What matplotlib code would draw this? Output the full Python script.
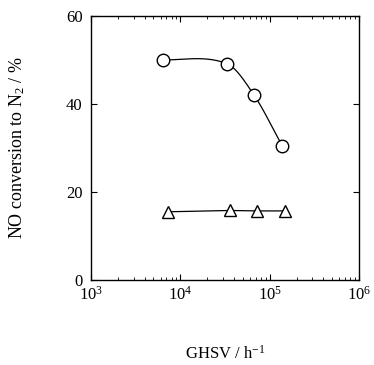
import numpy as np
import matplotlib
matplotlib.use("Agg")
import matplotlib.pyplot as plt
from matplotlib.ticker import LogLocator, FixedLocator

plt.rcParams['font.family'] = ['Liberation Serif', 'DejaVu Serif']
plt.rcParams['mathtext.fontset'] = 'custom'
plt.rcParams['mathtext.rm'] = 'Liberation Serif'
plt.rcParams['mathtext.it'] = 'Liberation Serif:italic'

ghsv_circle = [6400, 33000, 67000, 139000]
conv_circle = [50.0, 49.2, 42.0, 30.4]
ghsv_tri = [7200, 36000, 73000, 148000]
conv_tri = [15.5, 15.8, 15.7, 15.7]


def smooth_curve(x, y, xs):
    """Cubic Hermite (Catmull-Rom slopes, flat start) through the points."""
    x = np.asarray(x, float); y = np.asarray(y, float)
    n = len(x)
    h = np.diff(x)
    m = np.zeros(n)
    for i in range(1, n - 1):
        m[i] = (y[i+1] - y[i-1]) / (x[i+1] - x[i-1])
    m[0] = 0.0
    m[-1] = (y[-1] - y[-2]) / h[-1]
    out = np.empty_like(xs)
    for j, xv in enumerate(xs):
        i = int(np.clip(np.searchsorted(x, xv, side='right') - 1, 0, n - 2))
        t = (xv - x[i]) / h[i]
        h00 = 2*t**3 - 3*t**2 + 1; h10 = t**3 - 2*t**2 + t
        h01 = -2*t**3 + 3*t**2; h11 = t**3 - t**2
        out[j] = h00*y[i] + h10*h[i]*m[i] + h01*y[i+1] + h11*h[i]*m[i+1]
    return out


fig = plt.figure(figsize=(3.74, 3.65), dpi=100)
ax = fig.add_axes([91/374, 1-280/365, (359-91)/374, (280-16)/365])

lx = np.log10(ghsv_circle)
xs = np.linspace(lx[0], lx[-1], 300)
ax.plot(10**xs, smooth_curve(lx, conv_circle, xs), color='black', lw=0.9)
ax.plot(ghsv_circle, conv_circle, 'o', mfc='white', mec='black', ms=9, mew=1.0)

ax.plot(ghsv_tri, conv_tri, color='black', lw=0.9)
ax.plot(ghsv_tri, conv_tri, '^', mfc='white', mec='black', ms=8, mew=1.0)

ax.set_xscale('log')
ax.set_xlim(1e3, 1e6)
ax.set_ylim(0, 60)
ax.yaxis.set_major_locator(FixedLocator([0, 20, 40, 60]))
ax.xaxis.set_major_locator(LogLocator(base=10, numticks=10))
ax.xaxis.set_minor_locator(LogLocator(base=10, subs=np.arange(2, 10), numticks=20))
ax.tick_params(which='both', direction='in', top=True, right=True, labelsize=12)
ax.tick_params(which='major', length=4)
ax.tick_params(which='minor', length=2)
ax.tick_params(axis='x', which='major', pad=4)
ax.tick_params(axis='y', which='major', pad=6)
for s in ax.spines.values():
    s.set_linewidth(1.0)

ax.set_ylabel('NO conversion to N$_2$ / %', fontsize=13, labelpad=28)
ax.set_xlabel('GHSV / h$^{-1}$', fontsize=12, labelpad=30)

fig.savefig('out.png', dpi=100)
